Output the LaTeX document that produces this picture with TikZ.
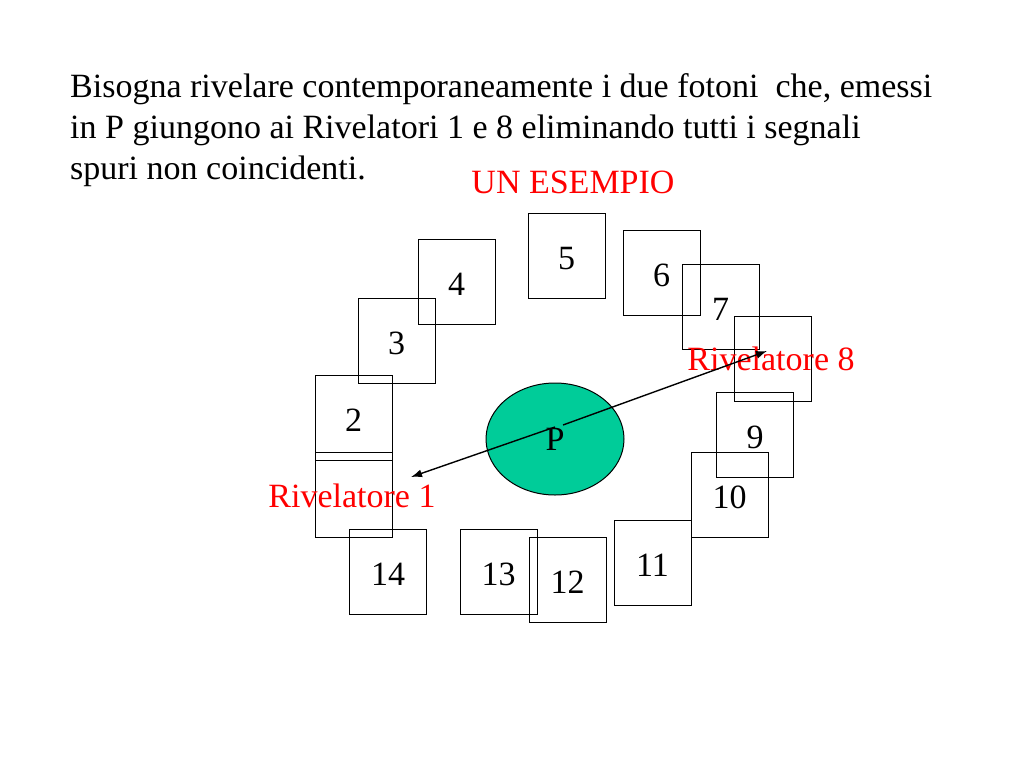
\documentclass[tikz,border=0pt]{standalone}
\usepackage{fontspec}
\setmainfont{Liberation Serif}
\usetikzlibrary{arrows.meta,shapes.geometric}
\definecolor{sorgente}{RGB}{0,204,153}
\begin{document}
\begin{tikzpicture}[
		x=1pt, y=-1pt,
		testo/.style={anchor=base west, inner sep=0pt, font=\fontsize{34}{41}\selectfont},
		rivelatore/.style={draw, line width=1pt, minimum width=77pt, minimum height=85pt, inner sep=0pt,
			text height=28pt, font=\fontsize{34}{41}\selectfont},
		etichetta/.style={anchor=base, inner sep=0pt, text=red, font=\fontsize{34}{41}\selectfont},
		fotone/.style={-{Latex[length=11pt,width=8pt]}, line width=1.4pt},
%		rivelatore/.style={draw, minimum size=80pt}
		]
		\useasboundingbox (0,0) rectangle (1024,768);
		\node[testo] (riga1) at (70,97) {Bisogna rivelare contemporaneamente i due fotoni\ \ che, emessi};
		\node[testo] (riga2) at (70,138) {in P giungono ai Rivelatori 1 e 8 eliminando tutti i segnali};
		\node[testo] (riga3) at (70,179) {spuri non coincidenti.};
		\node[etichetta] (esempio) at (573,193) {UN ESEMPIO};

		\node[rivelatore] (r1) at (353.5,494.5) {};
		\node[rivelatore] (r2) at (353.5,417.5) {2};
		\node[rivelatore] (r3) at (396.5,340.5) {3};
		\node[rivelatore] (r4) at (456.5,281.5) {4};
		\node[rivelatore] (r5) at (566.5,255.5) {5};
		\node[rivelatore] (r6) at (661.5,272.5) {6};
		\node[rivelatore] (r7) at (720.5,306.5) {7};
		\node[rivelatore] (r8) at (772.5,358.5) {};
		\node[rivelatore] (r9) at (755,435) {9};
		\node[rivelatore] (r10) at (729.5,494.5) {10};
		\node[rivelatore] (r11) at (652.5,562.5) {11};
		\node[rivelatore] (r12) at (567.5,579.5) {12};
		\node[rivelatore] (r13) at (498.5,571.5) {13};
		\node[rivelatore] (r14) at (388,571.5) {14};

		\node[draw, line width=1pt, fill=sorgente, ellipse, minimum width=138pt, minimum height=112pt,
			inner sep=0pt, font=\fontsize{34}{41}\selectfont] (P) at (555,439) {P};

		\node[etichetta] (riv1) at (352,507) {Rivelatore 1};
		\node[etichetta] (riv8) at (771,370) {Rivelatore 8};

		\coordinate (da1) at (555,427);
		\coordinate (a1) at (411,477);
		\coordinate (da8) at (563,425);
		\coordinate (a8) at (767,351);
		\draw[fotone] (da1) -- (a1);
		\draw[fotone] (da8) -- (a8);
\end{tikzpicture}
\end{document}
